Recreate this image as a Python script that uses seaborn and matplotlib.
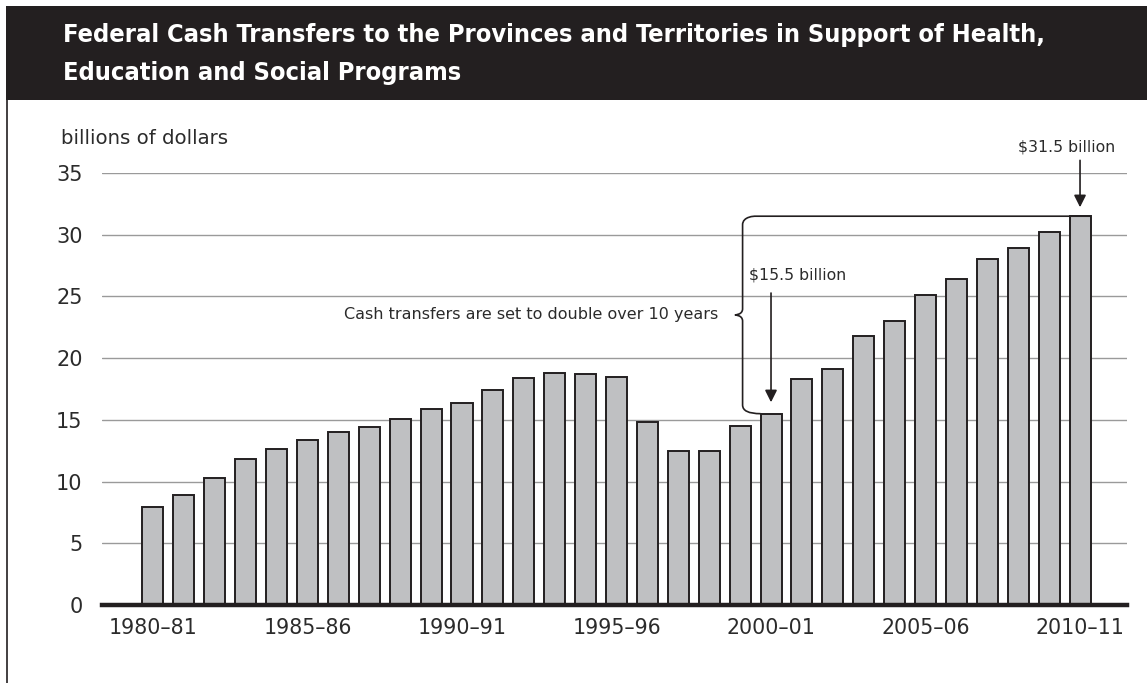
import matplotlib
matplotlib.use("Agg")
import matplotlib.pyplot as plt
from matplotlib.patches import Rectangle, PathPatch
from matplotlib.path import Path
from matplotlib.lines import Line2D
import seaborn as sns
import pandas as pd

years = [f"{y}\u2013{str(y + 1)[-2:]}" for y in range(1980, 2011)]
values = [7.9, 8.9, 10.3, 11.8, 12.6, 13.4, 14.0, 14.4, 15.1, 15.9, 16.4, 17.4,
          18.4, 18.8, 18.7, 18.5, 14.8, 12.5, 12.5, 14.5, 15.5, 18.3, 19.1, 21.8,
          23.0, 25.1, 26.4, 28.0, 28.9, 30.2, 31.5]
yticks = [0, 5, 10, 15, 20, 25, 30, 35]
title_lines = ["Federal Cash Transfers to the Provinces and Territories in Support of Health,",
               "Education and Social Programs"]
ylabel = "billions of dollars"
note = "Cash transfers are set to double over 10 years"
start_label = "$15.5 billion"
end_label = "$31.5 billion"

df = pd.DataFrame({"year": years, "value": values})

sns.set_style("white")
plt.rcParams["font.family"] = ["DejaVu Sans"]
ink = "#231f20"
txt = "#2b2b2b"

W, H = 1147, 683
fig = plt.figure(figsize=(W / 100, H / 100), dpi=100)
fig.patch.set_facecolor("white")

# title bar
fig.add_artist(Rectangle((6 / W, 1 - 100 / H), 1 - 6 / W, 94 / H, transform=fig.transFigure,
                         facecolor=ink, edgecolor="none"))
fig.add_artist(Line2D([7 / W, 7 / W], [0, 1 - 100 / H], transform=fig.transFigure,
                      color=ink, lw=1.2))
for k, line in enumerate(title_lines):
    fig.text(63 / W, 1 - (42 + 38 * k) / H, line, color="white", fontsize=18.2,
             fontweight="bold", fontstretch="condensed",
             family=["DejaVu Sans Condensed", "DejaVu Sans"], va="baseline", ha="left")

ax = fig.add_axes([102 / W, 1 - 605 / H, (1127 - 102) / W, (605 - 173) / H])
sns.barplot(data=df, x="year", y="value", ax=ax, color="#bfc0c2", saturation=1,
            width=0.68, edgecolor=ink, linewidth=1.4, zorder=3)

ax.set_ylim(0, 35)
ax.set_xlim(-1.65, len(years) - 1 + 1.52)
ax.set_yticks(yticks)
ax.set_yticklabels([str(t) for t in yticks], fontsize=15, color=txt)
pos = list(range(0, len(years), 5))
ax.set_xticks(pos)
ax.set_xticklabels([years[i] for i in pos], fontsize=14.8, color=txt)
ax.tick_params(axis="both", length=0)
ax.tick_params(axis="y", pad=14)
ax.tick_params(axis="x", pad=9)
ax.set_xlabel("")
ax.set_ylabel("")
ax.yaxis.grid(True, color="#9a9a9a", lw=1.0, zorder=0)
ax.set_axisbelow(True)
for s in ["top", "right", "left"]:
    ax.spines[s].set_visible(False)
ax.spines["bottom"].set_color(ink)
ax.spines["bottom"].set_linewidth(3.2)
ax.spines["bottom"].set_zorder(5)

fig.text(61 / W, 1 - 138 / H, ylabel, fontsize=14.2, color=txt, va="center", ha="left")

# brace between 2000-01 and 2010-11
i0, i1 = years.index("2000\u201301"), years.index("2010\u201311")
v0, v1 = values[i0], values[i1]
bx = i0 - 0.92
tip = bx - 0.25
mid = (v0 + v1) / 2
c = 0.7
verts = [(i0 - 0.34, v0), (bx, v0), (bx, v0 + c),
         (bx, mid - 0.5),
         (bx, mid), (tip, mid), (tip, mid),
         (tip, mid), (bx, mid), (bx, mid + 0.5),
         (bx, v1 - c),
         (bx, v1), (bx + 0.4, v1), (bx + 0.4, v1),
         (i1 + 0.34, v1)]
codes = [Path.MOVETO, Path.CURVE3, Path.CURVE3,
         Path.LINETO,
         Path.CURVE4, Path.CURVE4, Path.CURVE4,
         Path.CURVE4, Path.CURVE4, Path.CURVE4,
         Path.LINETO,
         Path.CURVE4, Path.CURVE4, Path.CURVE4,
         Path.LINETO]
ax.add_patch(PathPatch(Path(verts, codes), facecolor="none", edgecolor=ink, lw=1.2,
                       zorder=6, clip_on=False))
ax.text(tip - 0.55, mid, note, fontsize=11.5, color=txt, ha="right", va="center")

ax.annotate("", xy=(i0, v0 + 0.7), xytext=(i0, v0 + 10.0),
            arrowprops=dict(arrowstyle="-|>", color=ink, lw=1.2, mutation_scale=18))
ax.text(i0 + 0.85, v0 + 11.2, start_label, fontsize=11.3, color=txt, ha="center", va="center")
ax.annotate("", xy=(i1, v1 + 0.5), xytext=(i1, v1 + 4.75),
            arrowprops=dict(arrowstyle="-|>", color=ink, lw=1.2, mutation_scale=18),
            annotation_clip=False)
ax.text(i1 - 0.43, v1 + 5.6, end_label, fontsize=11.3, color=txt, ha="center", va="center")

fig.savefig("out.png", dpi=100, facecolor="white")
